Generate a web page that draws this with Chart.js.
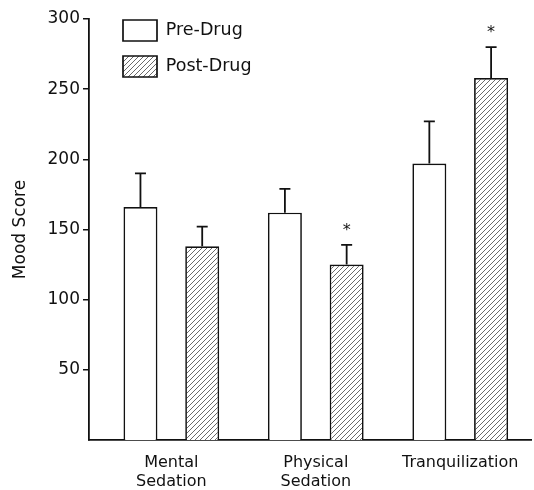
<!DOCTYPE html>
<html>
<head>
<meta charset="utf-8">
<script src="https://cdn.jsdelivr.net/npm/chart.js@4.4.1/dist/chart.umd.min.js"></script>
<style>
  html, body { margin: 0; padding: 0; background: #fff; }
</style>
</head>
<body>
<canvas id="chart" width="534" height="490"></canvas>
<script>
'use strict';

const categories = [['Mental', 'Sedation'], ['Physical', 'Sedation'], ['Tranquilization']];
const preDrug = [166, 162, 197];
const preDrugErr = [24, 17, 30];
const postDrug = [138, 125, 258];
const postDrugErr = [14, 14, 22];
const postDrugStar = [false, true, true];
const yTicks = [50, 100, 150, 200, 250, 300];

const ink = '#111';
Chart.defaults.font.family = "'DejaVu Sans', sans-serif";
Chart.defaults.color = ink;

const canvas = document.getElementById('chart');
const ctx = canvas.getContext('2d');

function makeHatch() {
    const size = 5;
    const c = document.createElement('canvas');
    c.width = size;
    c.height = size;
    const g = c.getContext('2d');
    g.fillStyle = '#fff';
    g.fillRect(0, 0, size, size);
    g.strokeStyle = '#444';
    g.lineWidth = 0.8;
    g.beginPath();
    g.moveTo(-1, size + 1); g.lineTo(size + 1, -1);
    g.moveTo(-1, 1); g.lineTo(1, -1);
    g.moveTo(size - 1, size + 1); g.lineTo(size + 1, size - 1);
    g.stroke();
    return ctx.createPattern(c, 'repeat');
}

const toPoints = arr => arr.map((v, i) => ({x: i, y: v}));

// error bars (upward only) and significance stars
const errorBars = {
    id: 'errorBars',
    afterDatasetsDraw(chart) {
        const c = chart.ctx;
        const y = chart.scales.y;
        c.save();
        c.strokeStyle = ink;
        c.fillStyle = ink;
        c.lineWidth = 1.8;
        c.font = "16px 'DejaVu Sans'";
        c.textAlign = 'center';
        c.textBaseline = 'middle';
        chart.data.datasets.forEach((ds, i) => {
            chart.getDatasetMeta(i).data.forEach((bar, j) => {
                const top = y.getPixelForValue(ds.data[j].y + ds.errors[j]);
                c.beginPath();
                c.moveTo(bar.x, bar.y);
                c.lineTo(bar.x, top);
                c.moveTo(bar.x - 5.5, top);
                c.lineTo(bar.x + 5.5, top);
                c.stroke();
                if (ds.stars && ds.stars[j]) {
                    c.fillText('*', bar.x, top - 14);
                }
            });
        });
        c.restore();
    }
};

// put the legend inside the plot, near the top left
const legendInside = {
    id: 'legendInside',
    afterLayout(chart) {
        const area = chart.chartArea;
        const pad = chart.options.plugins.legend.labels.padding;
        chart.legend.left = area.left + 34 - pad;
        chart.legend.top = area.top + 1 - pad;
    }
};

new Chart(ctx, {
    type: 'bar',
    data: {
        datasets: [
            {
                label: 'Pre-Drug',
                data: toPoints(preDrug),
                errors: preDrugErr,
                backgroundColor: '#fff',
                borderColor: ink,
                borderWidth: 1.7,
            },
            {
                label: 'Post-Drug',
                data: toPoints(postDrug),
                errors: postDrugErr,
                stars: postDrugStar,
                backgroundColor: makeHatch(),
                borderColor: ink,
                borderWidth: 1.7,
            },
        ],
    },
    options: {
        responsive: false,
        animation: false,
        categoryPercentage: 0.855,
        barPercentage: 0.55,
        layout: {padding: {top: 19, right: 3, bottom: 0, left: 0}},
        plugins: {
            tooltip: {enabled: false},
            legend: {
                position: 'chartArea',
                align: 'start',
                labels: {
                    boxWidth: 34,
                    boxHeight: 21,
                    padding: 15,
                    color: ink,
                    font: {size: 17.5},
                },
            },
        },
        scales: {
            x: {
                type: 'linear',
                offset: false,
                min: -0.57,
                max: 2.49,
                afterBuildTicks: scale => {
                    scale.ticks = categories.map((c, i) => ({value: i}));
                },
                afterFit: scale => { scale.height = 50; },
                grid: {display: false, drawTicks: false},
                border: {display: true, color: ink, width: 1.8},
                ticks: {
                    autoSkip: false,
                    maxRotation: 0,
                    padding: 14,
                    color: ink,
                    font: {size: 16, lineHeight: 1.15},
                    callback: v => categories[v] || '',
                },
            },
            y: {
                min: 0,
                max: 300,
                afterBuildTicks: scale => {
                    scale.ticks = yTicks.map(v => ({value: v}));
                },
                afterFit: scale => { scale.width = 89; },
                grid: {drawOnChartArea: false, drawTicks: true, tickLength: 6, color: ink, lineWidth: 1.5},
                border: {display: true, color: ink, width: 1.8},
                ticks: {padding: 3, color: ink, font: {size: 17}},
                title: {
                    display: true,
                    text: 'Mood Score',
                    color: ink,
                    font: {size: 17},
                    padding: {top: 10, bottom: 0},
                },
            },
        },
    },
    plugins: [errorBars, legendInside],
});
</script>
</body>
</html>
